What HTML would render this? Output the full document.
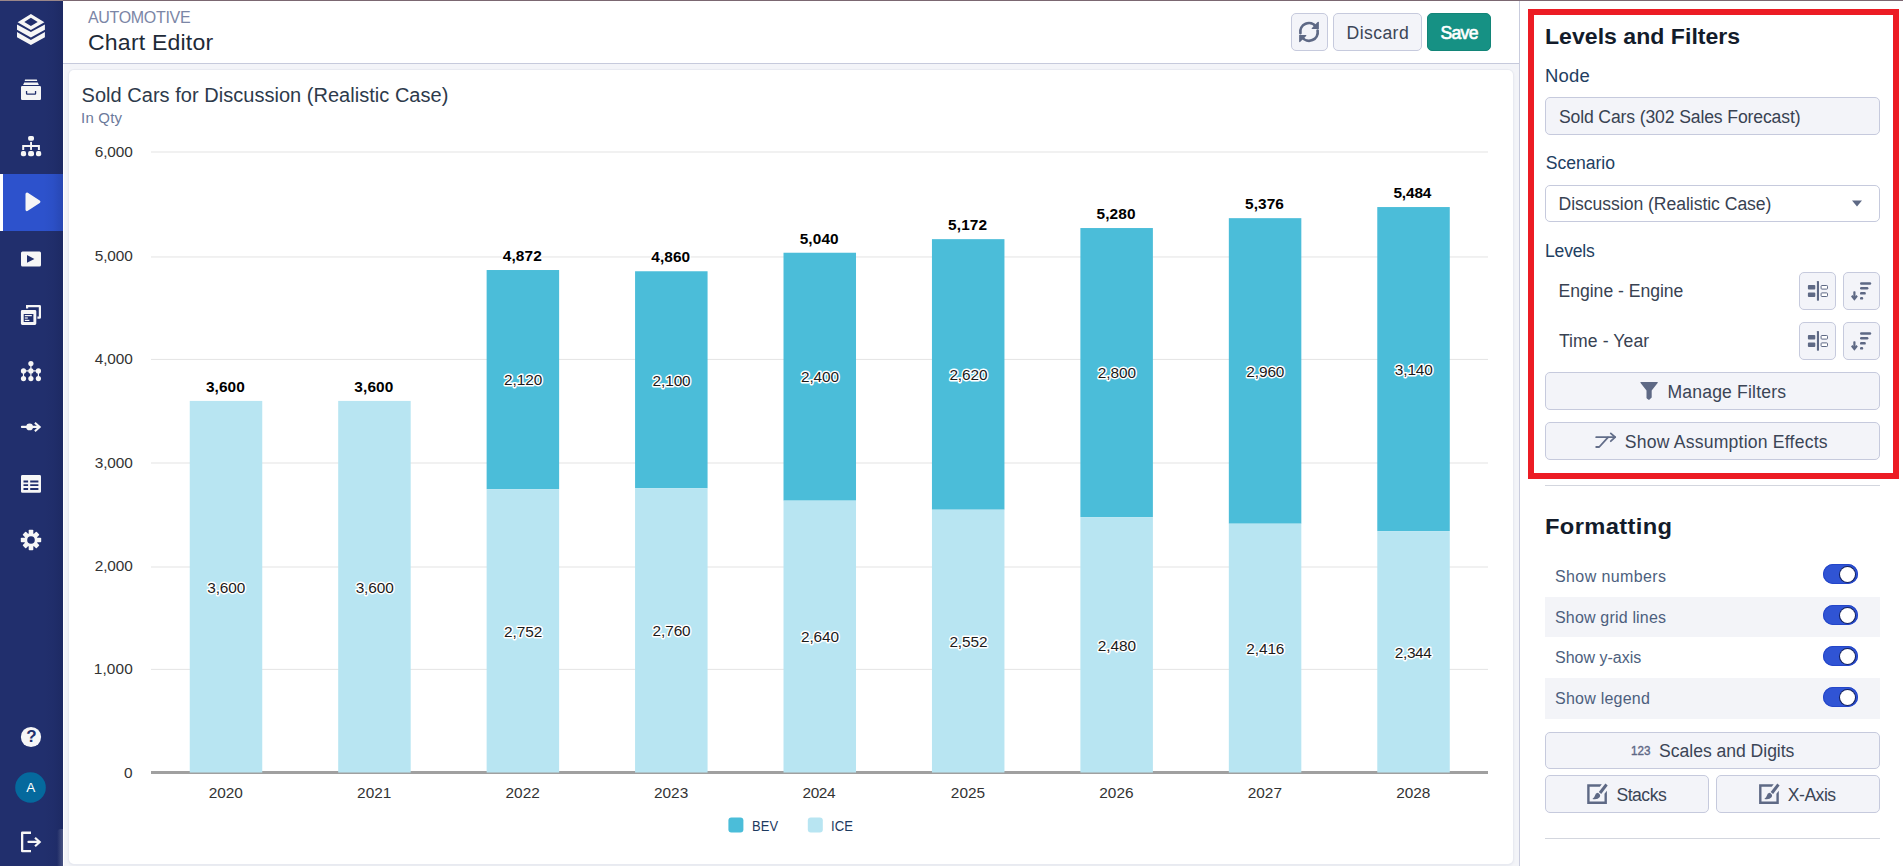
<!DOCTYPE html>
<html lang="en">
<head>
<meta charset="utf-8">
<title>Chart Editor</title>
<style>
*{box-sizing:border-box;margin:0;padding:0}
html,body{width:1903px;height:866px;overflow:hidden;background:#fff;font-family:"Liberation Sans",sans-serif}
.abs{position:absolute}
.t{position:absolute;white-space:nowrap;line-height:1;font-family:"Liberation Sans",sans-serif}
.semi{-webkit-text-stroke:.65px currentColor}
.semi2{-webkit-text-stroke:.4px currentColor}
.halo{-webkit-text-stroke:2.8px #fff;paint-order:stroke fill}
#topline{left:0;top:0;width:1903px;height:1px;background:linear-gradient(90deg,#9a8689 0,#9a8689 63px,#7b6771 63px)}
#side{left:0;top:1px;width:63px;height:865px;background:#212f6d}
#sideshade{left:43px;top:1px;width:20px;height:865px;background:linear-gradient(90deg,rgba(10,15,50,0) 0,rgba(10,15,50,.04) 10px,rgba(10,15,50,.16) 20px)}
#active{left:0;top:174px;width:63px;height:57px;background:#2d52cc}
#activebar{left:0;top:174px;width:3px;height:57px;background:#fff}
#header{left:63px;top:1px;width:1456px;height:62px;background:#fff}
#hline{left:63px;top:63px;width:1456px;height:1px;background:#c6cadc}
#main{left:63px;top:64px;width:1456px;height:802px;background:#f3f4f8}
#card{left:69px;top:70px;width:1444px;height:794px;background:#fff;border-radius:5px;box-shadow:0 0 0 1px #e8eaf1,0 1px 3px rgba(60,70,110,.12)}
#vline{left:1519px;top:1px;width:1px;height:865px;background:#c9ccdd}
#panel{left:1520px;top:1px;width:383px;height:865px;background:#fff}
#red{left:1528px;top:9px;width:371px;height:470px;border:6px solid #ec1c24}
.btn{position:absolute;background:#f3f4f9;border:1px solid #c6cadd;border-radius:5px}
.hr{position:absolute;height:1px;background:#d3d6de}
.row{position:absolute;left:1545px;width:335px;background:#f3f4f8}
.tog{position:absolute;left:1823px;width:35px;height:20px;border-radius:10px;background:#3054d4;box-shadow:inset 0 0 0 1px #2446c9}
.tog i{position:absolute;left:17px;top:3px;width:15px;height:15px;border-radius:8px;background:#fff;display:block;box-shadow:0 0 0 1px #15235e}
svg{display:block;overflow:visible}
</style>
</head>
<body>
<div class="abs" id="header"></div>
<div class="abs" id="hline"></div>
<div class="abs" id="main"></div>
<div class="abs" id="card"></div>
<div class="abs" id="panel"></div>
<div class="abs" id="vline"></div>
<div class="abs" id="side"></div>
<div class="abs" id="active"></div>
<div class="abs" id="activebar"></div>
<div class="abs" id="sideshade"></div>
<div class="abs" style="left:57px;top:829px;width:6px;height:37px;border-radius:4px 0 0 0;background:linear-gradient(90deg,rgba(255,255,255,0) 0,rgba(255,255,255,.2) 100%)"></div>
<div class="abs" style="left:63px;top:64px;width:1px;height:802px;background:#fff"></div>
<div class="abs" id="topline"></div>

<!-- header buttons -->
<div class="btn" style="left:1291px;top:13px;width:37px;height:38px"></div>
<div class="btn" style="left:1333px;top:13px;width:89px;height:38px"></div>
<div class="btn" style="left:1427px;top:13px;width:64px;height:38px;background:#169184;border-color:#138578"></div>

<!-- right panel boxes -->
<div class="abs" id="red"></div>
<div class="btn" style="left:1545px;top:97px;width:335px;height:38px"></div>
<div class="btn" style="left:1545px;top:185px;width:335px;height:37px;background:#fff"></div>
<div class="btn" style="left:1799px;top:272px;width:37px;height:38px"></div>
<div class="btn" style="left:1843px;top:272px;width:37px;height:38px"></div>
<div class="btn" style="left:1799px;top:322px;width:37px;height:38px"></div>
<div class="btn" style="left:1843px;top:322px;width:37px;height:38px"></div>
<div class="btn" style="left:1545px;top:372px;width:335px;height:38px"></div>
<div class="btn" style="left:1545px;top:422px;width:335px;height:38px"></div>
<div class="hr" style="left:1545px;top:485px;width:335px"></div>
<div class="row" style="top:597px;height:40px"></div>
<div class="row" style="top:678px;height:41px"></div>
<div class="tog" style="top:564px"><i></i></div>
<div class="tog" style="top:605px"><i></i></div>
<div class="tog" style="top:646px"><i></i></div>
<div class="tog" style="top:687px"><i></i></div>
<div class="btn" style="left:1545px;top:732px;width:335px;height:37px"></div>
<div class="btn" style="left:1545px;top:775px;width:164px;height:38px"></div>
<div class="btn" style="left:1716px;top:775px;width:164px;height:38px"></div>
<div class="hr" style="left:1545px;top:838px;width:335px"></div>

<svg class="abs" style="left:0;top:0" width="1903" height="866" viewBox="0 0 1903 866">
<rect x="151" y="151.45" width="1337" height="1.1" fill="#e6e6e6"/>
<rect x="151" y="256.40" width="1337" height="1.1" fill="#e6e6e6"/>
<rect x="151" y="358.90" width="1337" height="1.1" fill="#e6e6e6"/>
<rect x="151" y="462.45" width="1337" height="1.1" fill="#e6e6e6"/>
<rect x="151" y="566.45" width="1337" height="1.1" fill="#e6e6e6"/>
<rect x="151" y="668.85" width="1337" height="1.1" fill="#e6e6e6"/>
<rect x="151" y="771" width="1337" height="3" fill="#a0a0a0"/>
<rect x="189.75" y="400.91" width="72.5" height="371.59" fill="#b8e5f2"/>
<rect x="338.19" y="400.91" width="72.5" height="371.59" fill="#b8e5f2"/>
<rect x="486.63" y="270.02" width="72.5" height="219.10" fill="#4bbdd9"/>
<rect x="486.63" y="489.12" width="72.5" height="283.38" fill="#b8e5f2"/>
<rect x="635.07" y="271.26" width="72.5" height="217.04" fill="#4bbdd9"/>
<rect x="635.07" y="488.30" width="72.5" height="284.20" fill="#b8e5f2"/>
<rect x="783.51" y="252.73" width="72.5" height="247.91" fill="#4bbdd9"/>
<rect x="783.51" y="500.64" width="72.5" height="271.86" fill="#b8e5f2"/>
<rect x="931.95" y="239.15" width="72.5" height="270.55" fill="#4bbdd9"/>
<rect x="931.95" y="509.70" width="72.5" height="262.80" fill="#b8e5f2"/>
<rect x="1080.39" y="228.04" width="72.5" height="289.07" fill="#4bbdd9"/>
<rect x="1080.39" y="517.11" width="72.5" height="255.39" fill="#b8e5f2"/>
<rect x="1228.83" y="218.16" width="72.5" height="305.53" fill="#4bbdd9"/>
<rect x="1228.83" y="523.69" width="72.5" height="248.81" fill="#b8e5f2"/>
<rect x="1377.27" y="207.05" width="72.5" height="324.06" fill="#4bbdd9"/>
<rect x="1377.27" y="531.10" width="72.5" height="241.40" fill="#b8e5f2"/>
<rect x="728.4" y="817.4" width="15" height="15" rx="3" fill="#4bbdd9"/>
<rect x="807.8" y="817.4" width="15" height="15" rx="3" fill="#b8e5f2"/>
<g font-family="Liberation Sans, sans-serif" stroke="#fff" stroke-width="2.8" stroke-linejoin="round" paint-order="stroke" style="white-space:pre">
<text x="205.90" y="392" font-size="15.4" font-weight="700" fill="#000000" letter-spacing="0.111">3,600</text>
<text x="207.20" y="593" font-size="15.4" fill="#1a1a1a" letter-spacing="-0.089">3,600</text>
<text x="354.34" y="392" font-size="15.4" font-weight="700" fill="#000000" letter-spacing="0.111">3,600</text>
<text x="355.64" y="593" font-size="15.4" fill="#1a1a1a" letter-spacing="-0.089">3,600</text>
<text x="502.78" y="261" font-size="15.4" font-weight="700" fill="#000000" letter-spacing="0.111">4,872</text>
<text x="504.08" y="637" font-size="15.4" fill="#1a1a1a" letter-spacing="-0.089">2,752</text>
<text x="504.08" y="385" font-size="15.4" fill="#1a1a1a" letter-spacing="-0.089">2,120</text>
<text x="651.22" y="262" font-size="15.4" font-weight="700" fill="#000000" letter-spacing="0.111">4,860</text>
<text x="652.52" y="636" font-size="15.4" fill="#1a1a1a" letter-spacing="-0.089">2,760</text>
<text x="652.52" y="386" font-size="15.4" fill="#1a1a1a" letter-spacing="-0.089">2,100</text>
<text x="799.66" y="244" font-size="15.4" font-weight="700" fill="#000000" letter-spacing="0.111">5,040</text>
<text x="800.96" y="642" font-size="15.4" fill="#1a1a1a" letter-spacing="-0.089">2,640</text>
<text x="800.96" y="382" font-size="15.4" fill="#1a1a1a" letter-spacing="-0.089">2,400</text>
<text x="948.10" y="230" font-size="15.4" font-weight="700" fill="#000000" letter-spacing="0.111">5,172</text>
<text x="949.40" y="647" font-size="15.4" fill="#1a1a1a" letter-spacing="-0.089">2,552</text>
<text x="949.40" y="380" font-size="15.4" fill="#1a1a1a" letter-spacing="-0.089">2,620</text>
<text x="1096.54" y="219" font-size="15.4" font-weight="700" fill="#000000" letter-spacing="0.111">5,280</text>
<text x="1097.84" y="651" font-size="15.4" fill="#1a1a1a" letter-spacing="-0.089">2,480</text>
<text x="1097.84" y="378" font-size="15.4" fill="#1a1a1a" letter-spacing="-0.089">2,800</text>
<text x="1244.98" y="209" font-size="15.4" font-weight="700" fill="#000000" letter-spacing="0.111">5,376</text>
<text x="1246.28" y="654" font-size="15.4" fill="#1a1a1a" letter-spacing="-0.089">2,416</text>
<text x="1246.28" y="377" font-size="15.4" fill="#1a1a1a" letter-spacing="-0.089">2,960</text>
<text x="1393.42" y="198" font-size="15.4" font-weight="700" fill="#000000" letter-spacing="-0.139">5,484</text>
<text x="1394.72" y="658" font-size="15.4" fill="#1a1a1a" letter-spacing="-0.339">2,344</text>
<text x="1394.72" y="375" font-size="15.4" fill="#1a1a1a" letter-spacing="-0.089">3,140</text>
</g>
</svg>
<svg class="abs" style="left:0;top:0" width="1903" height="866" viewBox="0 0 1903 866">
<g fill="#f6f6f6" stroke="none">
<!-- logo -->
<path fill-rule="evenodd" d="M30.9 13.9 L44.4 22.2 L30.9 30.1 L17.6 22.2 Z M30.9 17.8 L37.7 22.1 L30.9 26 L24.3 22.1 Z"/>
<path d="M17 24.6 L30.9 32 L44.9 24.6 L44.9 29.7 L30.9 37.6 L17 29.7 Z"/>
<path d="M17 32.1 L30.9 39.9 L44.9 32.1 L44.9 37.2 L30.9 45 L17 37.2 Z"/>
<!-- archive -->
<rect x="24.8" y="79.6" width="12.3" height="1.5" rx=".4"/>
<path d="M24.2 82.5 H37.8 L38.9 84.9 H23.1 Z"/>
<path fill-rule="evenodd" d="M22.2 86 H39.8 Q41 86 41 87.2 V98.7 Q41 99.9 39.8 99.9 H22.2 Q21 99.9 21 98.7 V87.2 Q21 86 22.2 86 Z M25.9 91 V93.6 Q25.9 94.8 27.1 94.8 H35 Q36.2 94.8 36.2 93.6 V91 H34.9 V93.4 H27.2 V91 Z"/>
<!-- sitemap -->
<rect x="28.1" y="135.9" width="5.9" height="4.9" rx="1.7"/>
<rect x="30.1" y="141.9" width="1.9" height="8"/>
<path d="M22.2 145.1 H39.9 V149.9 H37.9 V147 H24.2 V149.9 H22.2 Z"/>
<rect x="20.9" y="151" width="5.2" height="5.2" rx="1.9"/>
<rect x="28.1" y="151" width="5.9" height="5.2" rx="1.9"/>
<rect x="36" y="151" width="5.2" height="5.2" rx="1.9"/>
<!-- play (active) -->
<path d="M27 194 L38.9 201.8 L27 209.6 Z" stroke="#f6f6f6" stroke-width="3" stroke-linejoin="round"/>
<!-- play box -->
<path fill-rule="evenodd" d="M22.5 251.4 H39.5 Q41 251.4 41 252.9 V265.1 Q41 266.6 39.5 266.6 H22.5 Q21 266.6 21 265.1 V252.9 Q21 251.4 22.5 251.4 Z M27 255 V262.7 L34.4 258.9 Z"/>
<!-- copy windows -->
<path d="M26 305 H39.6 Q41 305 41 306.4 V317.4 Q41 318.8 39.6 318.8 H37.4 V316.6 H38.8 V307.2 H28.2 V308.6 H26 Z"/>
<path fill-rule="evenodd" d="M22.3 309.9 H34.9 Q36.3 309.9 36.3 311.3 V323.6 Q36.3 325 34.9 325 H22.3 Q20.9 325 20.9 323.6 V311.3 Q20.9 309.9 22.3 309.9 Z M23.7 313.9 V322 H33.4 V313.9 Z"/>
<rect x="24.8" y="315" width="7" height="1.2"/>
<rect x="24.8" y="317.4" width="3" height="1.2"/>
<rect x="24.8" y="319.8" width="4.6" height="1.2"/>
<!-- nodes -->
<circle cx="30.9" cy="363.6" r="2.6"/>
<circle cx="23.5" cy="370.9" r="2.6"/><circle cx="30.9" cy="370.9" r="2.6"/><circle cx="38.4" cy="370.9" r="2.6"/>
<circle cx="23.5" cy="378.6" r="2.6"/><circle cx="30.9" cy="378.6" r="2.6"/><circle cx="38.4" cy="378.6" r="2.6"/>
<rect x="30.3" y="363.6" width="1.2" height="15"/>
<rect x="23.5" y="370.3" width="15" height="1.2"/>
<rect x="22.9" y="370.9" width="1.2" height="7.7"/>
<rect x="37.8" y="370.9" width="1.2" height="7.7"/>
<!-- arrow dot -->
<rect x="20.9" y="425.8" width="19" height="2.3" rx="1"/>
<circle cx="29.6" cy="426.9" r="3.4"/>
<path d="M35.6 421.9 L41.2 426.9 L35.6 432.1 L34.2 430.5 L38 426.9 L34.2 423.4 Z"/>
<!-- table -->
<path fill-rule="evenodd" d="M22.4 475 H39.6 Q41 475 41 476.4 V491.4 Q41 492.8 39.6 492.8 H22.4 Q21 492.8 21 491.4 V476.4 Q21 475 22.4 475 Z M23.5 480.4 V482.4 H28.1 V480.4 Z M30.2 480.4 V482.4 H38.4 V480.4 Z M23.5 484.2 V486.1 H28.1 V484.2 Z M30.2 484.2 V486.1 H38.4 V484.2 Z M23.5 487.9 V489.9 H28.1 V487.9 Z M30.2 487.9 V489.9 H38.4 V487.9 Z"/>
<!-- help -->
<circle cx="31" cy="737" r="10.1"/>
<!-- logout -->
<path d="M31 831.6 V833.9 H23.3 V850 H31 V852.3 H22.2 Q21 852.3 21 851.1 V832.8 Q21 831.6 22.2 831.6 Z"/>
<rect x="27.4" y="840.8" width="12" height="2.3" rx="1"/>
<path d="M35.8 836.9 L41.3 841.9 L35.8 847 L34.3 845.4 L38.1 841.9 L34.3 838.5 Z"/>
</g>
<!-- gear -->
<g transform="translate(31 540)" fill="#f6f6f6">
<g>
<rect x="-2.3" y="-10.2" width="4.6" height="20.4" rx=".8"/>
<rect x="-2.3" y="-9.8" width="4.6" height="19.6" rx=".8" transform="rotate(45)"/>
<rect x="-2.3" y="-10.2" width="4.6" height="20.4" rx=".8" transform="rotate(90)"/>
<rect x="-2.3" y="-9.8" width="4.6" height="19.6" rx=".8" transform="rotate(135)"/>
</g>
<circle r="6.7"/>
<circle r="3.8" fill="#212f6d"/>
</g>
<!-- avatar -->
<circle cx="30.5" cy="787.5" r="15.3" fill="#05699d"/>

<!-- ===== panel icons ===== -->
<g fill="#5e6985">
<!-- refresh -->
<g fill="none" stroke="#5e6985" stroke-width="2.7" stroke-linecap="round">
<path d="M1300.4 33.2 A8.7 8.7 0 0 1 1316 26.6"/>
<path d="M1317.6 30.6 A8.7 8.7 0 0 1 1302 37.2"/>
</g>
<path d="M1318.9 22.6 V28.9 H1312.2 Q1311 28.9 1311.9 27.9 L1317.6 22.1 Q1318.9 21 1318.9 22.6 Z"/>
<path d="M1299.1 41.2 V34.9 H1305.8 Q1307 34.9 1306.1 35.9 L1300.4 41.7 Q1299.1 42.8 1299.1 41.2 Z"/>
<!-- caret -->
<path d="M1852 200.4 H1862 L1857 206.6 Z"/>
<!-- funnel -->
<path d="M1641 381.9 H1657.2 Q1658.4 381.9 1657.6 382.9 L1651.7 390.4 V397.4 L1649 399.9 Q1646.5 398.6 1646.5 397.9 V390.4 L1640.6 382.9 Q1639.8 381.9 1641 381.9 Z"/>
<!-- assumption arrow -->
<g fill="none" stroke="#626d89" stroke-width="1.8" stroke-linecap="round" stroke-linejoin="round">
<path d="M1596.2 437.2 H1615"/>
<path d="M1610.8 433.4 L1615.2 437.2 L1610.8 441.2"/>
<path d="M1608 437.4 L1599.2 447 H1596.2"/>
</g>
</g>
<!-- level buttons icons -->
<g fill="#5e6985">
<rect x="1816.9" y="281" width="2.1" height="19.7" rx=".6"/>
<rect x="1807.9" y="285" width="7.4" height="4.6" rx="1"/>
<rect x="1807.9" y="292.4" width="7.4" height="4.6" rx="1"/>
<rect x="1821.1" y="285.5" width="6.4" height="3.6" rx=".8" fill="#fff" stroke="#5e6985" stroke-width="1"/>
<rect x="1821.1" y="292.9" width="6.4" height="3.6" rx=".8" fill="#fff" stroke="#5e6985" stroke-width="1"/>
<rect x="1860" y="282.2" width="11.2" height="2.5" rx="1.2"/>
<rect x="1860" y="287" width="8.4" height="2.5" rx="1.2"/>
<rect x="1860" y="292.1" width="5.8" height="2.5" rx="1.2"/>
<rect x="1860" y="297.1" width="3.2" height="2.5" rx="1.2"/>
<rect x="1853.3" y="291.2" width="2.2" height="8" rx=".8"/>
<path d="M1851 296.4 L1852.4 295 L1854.4 297 L1856.4 295 L1857.8 296.4 L1854.4 300.8 Z"/>
</g>
<g fill="#5e6985" transform="translate(0 50)">
<rect x="1816.9" y="281" width="2.1" height="19.7" rx=".6"/>
<rect x="1807.9" y="285" width="7.4" height="4.6" rx="1"/>
<rect x="1807.9" y="292.4" width="7.4" height="4.6" rx="1"/>
<rect x="1821.1" y="285.5" width="6.4" height="3.6" rx=".8" fill="#fff" stroke="#5e6985" stroke-width="1"/>
<rect x="1821.1" y="292.9" width="6.4" height="3.6" rx=".8" fill="#fff" stroke="#5e6985" stroke-width="1"/>
<rect x="1860" y="282.2" width="11.2" height="2.5" rx="1.2"/>
<rect x="1860" y="287" width="8.4" height="2.5" rx="1.2"/>
<rect x="1860" y="292.1" width="5.8" height="2.5" rx="1.2"/>
<rect x="1860" y="297.1" width="3.2" height="2.5" rx="1.2"/>
<rect x="1853.3" y="291.2" width="2.2" height="8" rx=".8"/>
<path d="M1851 296.4 L1852.4 295 L1854.4 297 L1856.4 295 L1857.8 296.4 L1854.4 300.8 Z"/>
</g>
<!-- edit icons -->
<g>
<path fill="#5e6985" d="M1587.2 784.3 H1601.8 L1599.8 786.7 H1589.6 V801.5 H1604.5 V793.8 L1606.9 790.8 V803.9 H1587.2 Z"/>
<path fill="#5e6985" d="M1605.4 783.5 L1607.7 785.5 L1601.2 794.1 L1598.8 792.1 Z"/>
<path fill="#5e6985" d="M1598.3 792.9 Q1601.2 794.6 1599.6 797.3 Q1597.6 800 1592.4 799 Q1594.6 797.6 1595 795.6 Q1595.6 792.6 1598.3 792.9 Z"/>
</g>
<g transform="translate(171.9 0)">
<path fill="#5e6985" d="M1587.2 784.3 H1601.8 L1599.8 786.7 H1589.6 V801.5 H1604.5 V793.8 L1606.9 790.8 V803.9 H1587.2 Z"/>
<path fill="#5e6985" d="M1605.4 783.5 L1607.7 785.5 L1601.2 794.1 L1598.8 792.1 Z"/>
<path fill="#5e6985" d="M1598.3 792.9 Q1601.2 794.6 1599.6 797.3 Q1597.6 800 1592.4 799 Q1594.6 797.6 1595 795.6 Q1595.6 792.6 1598.3 792.9 Z"/>
</g>
</svg>
<span class="t" style="left:26.2px;top:727.5px;font-size:17px;font-weight:700;color:#212f6c">?</span>

<span class="t" style="left:87.90px;top:10.00px;font-size:16px;color:#7b86a6;letter-spacing:-0.302px;">AUTOMOTIVE</span>
<span class="t" style="left:87.97px;top:32.00px;font-size:22.4px;color:#1e2a38;letter-spacing:0.187px;transform:scaleX(1.03);transform-origin:0 0;">Chart Editor</span>
<span class="t" style="left:1346.50px;top:25.00px;font-size:17.6px;color:#3b4556;letter-spacing:0.425px;">Discard</span>
<span class="t semi" style="left:1440.50px;top:25.00px;font-size:17.6px;color:#ffffff;letter-spacing:-0.706px;">Save</span>
<span class="t" style="left:81.60px;top:85.00px;font-size:20px;color:#2d3a4b;letter-spacing:0.027px;">Sold Cars for Discussion (Realistic Case)</span>
<span class="t" style="left:80.56px;top:111.00px;font-size:14.4px;color:#6b7a9b;letter-spacing:0.227px;transform:scaleX(1.04);transform-origin:0 0;">In Qty</span>
<span class="t" style="left:94.80px;top:144.00px;font-size:15.4px;color:#333333;letter-spacing:-0.139px;">6,000</span>
<span class="t" style="left:94.80px;top:248.00px;font-size:15.4px;color:#333333;letter-spacing:-0.139px;">5,000</span>
<span class="t" style="left:94.80px;top:351.00px;font-size:15.4px;color:#333333;letter-spacing:-0.139px;">4,000</span>
<span class="t" style="left:94.80px;top:455.00px;font-size:15.4px;color:#333333;letter-spacing:-0.139px;">3,000</span>
<span class="t" style="left:94.80px;top:558.00px;font-size:15.4px;color:#333333;letter-spacing:-0.139px;">2,000</span>
<span class="t" style="left:93.80px;top:661.00px;font-size:15.4px;color:#333333;letter-spacing:0.111px;">1,000</span>
<span class="t" style="left:124.10px;top:765.00px;font-size:15.4px;color:#333333;letter-spacing:0.000px;">0</span>
<span class="t" style="left:208.65px;top:785.00px;font-size:15.4px;color:#333333;letter-spacing:0.007px;">2020</span>
<span class="t" style="left:357.09px;top:785.00px;font-size:15.4px;color:#333333;letter-spacing:0.007px;">2021</span>
<span class="t" style="left:505.53px;top:785.00px;font-size:15.4px;color:#333333;letter-spacing:0.007px;">2022</span>
<span class="t" style="left:653.97px;top:785.00px;font-size:15.4px;color:#333333;letter-spacing:0.007px;">2023</span>
<span class="t" style="left:802.41px;top:785.00px;font-size:15.4px;color:#333333;letter-spacing:-0.326px;">2024</span>
<span class="t" style="left:950.85px;top:785.00px;font-size:15.4px;color:#333333;letter-spacing:0.007px;">2025</span>
<span class="t" style="left:1099.29px;top:785.00px;font-size:15.4px;color:#333333;letter-spacing:0.007px;">2026</span>
<span class="t" style="left:1247.73px;top:785.00px;font-size:15.4px;color:#333333;letter-spacing:0.007px;">2027</span>
<span class="t" style="left:1396.17px;top:785.00px;font-size:15.4px;color:#333333;letter-spacing:0.007px;">2028</span>
<span class="t" style="left:752.36px;top:818.00px;font-size:15.4px;color:#1d3a5f;letter-spacing:0.092px;transform:scaleX(0.84);transform-origin:0 0;">BEV</span>
<span class="t" style="left:831.35px;top:818.00px;font-size:15.4px;color:#1d3a5f;letter-spacing:0.040px;transform:scaleX(0.85);transform-origin:0 0;">ICE</span>
<span class="t" style="left:1544.97px;top:26.00px;font-size:22.4px;color:#131c2b;letter-spacing:0.021px;font-weight:700;transform:scaleX(1.03);transform-origin:0 0;">Levels and Filters</span>
<span class="t" style="left:1544.95px;top:68.00px;font-size:17.6px;color:#223e61;letter-spacing:0.226px;transform:scaleX(1.05);transform-origin:0 0;">Node</span>
<span class="t" style="left:1558.90px;top:109.00px;font-size:17.6px;color:#384252;letter-spacing:-0.130px;">Sold Cars (302 Sales Forecast)</span>
<span class="t" style="left:1545.70px;top:155.00px;font-size:17.6px;color:#223e61;letter-spacing:-0.022px;">Scenario</span>
<span class="t" style="left:1558.50px;top:196.00px;font-size:17.6px;color:#384252;letter-spacing:-0.044px;">Discussion (Realistic Case)</span>
<span class="t" style="left:1545.00px;top:243.00px;font-size:17.6px;color:#223e61;letter-spacing:-0.212px;">Levels</span>
<span class="t" style="left:1558.50px;top:283.00px;font-size:17.6px;color:#384252;letter-spacing:-0.023px;">Engine - Engine</span>
<span class="t" style="left:1558.90px;top:333.00px;font-size:17.6px;color:#384252;letter-spacing:0.093px;">Time - Year</span>
<span class="t" style="left:1667.50px;top:384.00px;font-size:17.6px;color:#3b4556;letter-spacing:0.164px;">Manage Filters</span>
<span class="t" style="left:1624.70px;top:434.00px;font-size:17.6px;color:#3b4556;letter-spacing:0.215px;">Show Assumption Effects</span>
<span class="t" style="left:1544.94px;top:516.00px;font-size:22.4px;color:#131c2b;letter-spacing:0.319px;font-weight:700;transform:scaleX(1.06);transform-origin:0 0;">Formatting</span>
<span class="t" style="left:1555.00px;top:569.00px;font-size:16px;color:#4d5f7e;letter-spacing:0.398px;">Show numbers</span>
<span class="t" style="left:1555.00px;top:610.00px;font-size:16px;color:#4d5f7e;letter-spacing:0.179px;">Show grid lines</span>
<span class="t" style="left:1555.00px;top:650.00px;font-size:16px;color:#4d5f7e;letter-spacing:-0.005px;">Show y-axis</span>
<span class="t" style="left:1555.00px;top:691.00px;font-size:16px;color:#4d5f7e;letter-spacing:0.238px;">Show legend</span>
<span class="t semi2" style="left:1630.74px;top:744.00px;font-size:13.5px;color:#5d6785;letter-spacing:0.073px;transform:scaleX(0.86);transform-origin:0 0;">123</span>
<span class="t" style="left:1659.10px;top:743.00px;font-size:17.6px;color:#3b4556;letter-spacing:-0.040px;">Scales and Digits</span>
<span class="t" style="left:1616.40px;top:787.00px;font-size:17.6px;color:#3b4556;letter-spacing:-0.480px;">Stacks</span>
<span class="t" style="left:1787.80px;top:787.00px;font-size:17.6px;color:#3b4556;letter-spacing:-0.507px;">X-Axis</span>
<span class="t" style="left:26.20px;top:781.00px;font-size:13.5px;color:#ffffff;letter-spacing:0.000px;">A</span>
</body>
</html>
